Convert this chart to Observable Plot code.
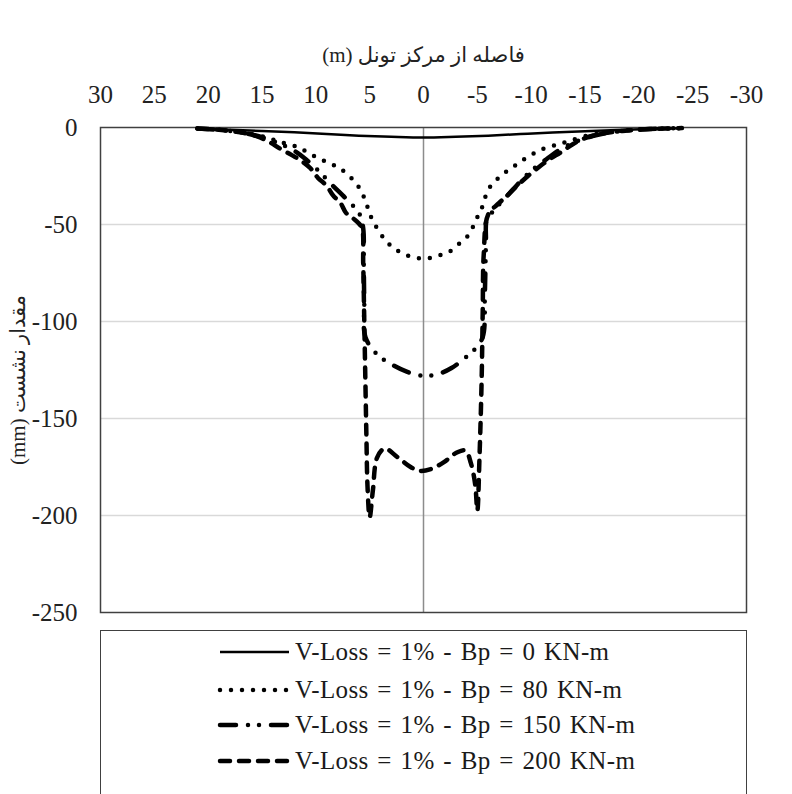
<!DOCTYPE html>
<html>
<head>
<meta charset="utf-8">
<script src="https://cdn.jsdelivr.net/npm/d3@7"></script>
<script src="https://cdn.jsdelivr.net/npm/@observablehq/plot@0.6"></script>
<style>
  body { margin: 0; background: #fff; }
  #wrap { position: relative; width: 792px; height: 794px; overflow: hidden;
          font-family: "Liberation Serif", "Times New Roman", "DejaVu Sans", serif; color: #111; }
  #legend { position: absolute; left: 100px; top: 630px; width: 647px; height: 220px;
            border: 1.5px solid #404040; box-sizing: border-box; background: #fff; }
  .row { position: absolute; left: 116px; height: 36px; display: flex; align-items: center;
         font-size: 25px; letter-spacing: 0.4px; word-spacing: 2px; white-space: nowrap; color: #1a1a1a; }
  .row svg { margin-right: 2px; }
</style>
</head>
<body>
<div id="wrap">
  <div id="chart"></div>
  <div id="legend"></div>
</div>
<script>
// Axis ticks and titles
const xTicks = [30, 25, 20, 15, 10, 5, 0, -5, -10, -15, -20, -25, -30];
const yTicks = [0, -50, -100, -150, -200, -250];
const gridTicks = [-50, -100, -150, -200];
const xTitle = "فاصله از مرکز تونل (m)";
const yTitle = "مقدار نشست (mm)";

// Series names
const seriesNames = [
  "V-Loss = 1% - Bp = 0 KN-m",
  "V-Loss = 1% - Bp = 80 KN-m",
  "V-Loss = 1% - Bp = 150 KN-m",
  "V-Loss = 1% - Bp = 200 KN-m"
];

// Bp = 0 : distance (m), settlement (mm)
const bp0X = [21, 18, 15, 12, 9, 6, 3, 0, -3, -6, -9, -12, -15, -18, -21, -24];
const bp0Y = [-0.8, -1.2, -1.8, -2.5, -3.3, -4.2, -4.8, -5.2, -4.8, -4.2, -3.4, -2.6, -1.9, -1.3, -0.8, -0.4];

// Bp = 80
const bp80X = [21, 19, 17, 15, 13, 11.7, 10.7, 9.7, 8.7, 7.8, 6.9, 6.1, 5.6, 5.2, 4.8, 3.7, 2.8, 1.9, 0.8, -0.3,
               -1.4, -2.4, -3.3, -4.1, -4.7, -5.1, -5.6, -5.9, -6.6, -7.4, -8.4, -9.3, -10.2, -11.1, -12.3,
               -13.5, -15, -17, -19, -21.5, -24];
const bp80Y = [-0.5, -1.2, -2.5, -4.5, -8, -10, -13, -16, -18.5, -21, -25, -30, -35, -41, -47, -57, -62, -65, -67, -67.5,
               -66, -64, -60, -56, -50, -45, -39, -33, -28, -24, -20, -16.5, -13.5, -11, -9,
               -7, -4.5, -2.5, -1.5, -0.7, -0.3];

// Bp = 150
const bp150X = [21, 19, 17, 15, 13.5, 12, 10.8, 9.8, 8.6, 7.5, 6.6, 5.9, 5.6, 5.55, 5.5, 5.4, 4.3, 3, 1.5, 0,
                -1.4, -2.6, -3.8, -4.8, -5.5, -5.7, -5.8, -5.9, -6.5, -7.3, -8.3, -9.3, -10.3, -11.5, -12.8,
                -14.3, -16, -18, -21, -24];
const bp150Y = [-0.5, -1.2, -2.5, -5, -8, -12, -17, -22, -29, -35, -40, -45, -52, -70, -90, -108, -117, -122, -126, -128,
                -127, -124, -119, -114, -108, -85, -60, -47, -43, -38, -32, -26, -21, -16, -11,
                -7, -4, -2, -0.8, -0.3];

// Bp = 200
const bp200X = [21, 19, 17, 15.5, 14.3, 13.3, 12.3, 11.4, 10.5, 9.8, 9, 8.4, 7.7, 7.2, 6.5, 6, 5.7, 5.6, 5.5, 5.4,
                5.3, 5.2, 5.0, 4.7, 4.3, 3.6, 2.4, 1.2, 0.3, -0.7, -1.9, -3.1, -3.9, -4.4, -4.8, -5.0, -5.2,
                -5.4, -5.5, -5.6, -6.0, -7.0, -7.8, -8.7, -9.7, -10.7, -11.8, -12.7, -13.9, -15, -16.7, -19,
                -21.5, -24];
const bp200Y = [-0.5, -1.2, -2.5, -4.5, -7.5, -11, -14, -17, -21, -26, -30, -35, -39, -44, -47, -49.5, -52, -70, -100, -130,
                -160, -185, -201, -187, -170, -165.5, -170, -175, -177, -176, -172.5, -167.5, -166.5, -173, -184, -197.5, -170,
                -130, -95, -65, -45, -39, -35, -30, -25, -20.5, -16, -13, -8.5, -5.5, -3, -1.5,
                -0.7, -0.3];

const seriesX = [bp0X, bp80X, bp150X, bp200X];
const seriesY = [bp0Y, bp80Y, bp150Y, bp200Y];

// Stroke styles per series
const styles = [
  { strokeWidth: 2.5, dash: null },
  { strokeWidth: 4.5, dash: "0 11" },
  { strokeWidth: 4.5, dash: "16 12 0 11 0 12" },
  { strokeWidth: 4.5, dash: "10 9" }
];

const font = '"Liberation Serif", "Times New Roman", "DejaVu Sans", serif';
// right-to-left embedding for the Persian titles
const rtl = s => "\u202B" + s + "\u202C";

const lineMarks = seriesNames.map((name, i) => {
  const rows = seriesX[i].map((x, j) => ({ x, y: seriesY[i][j] }));
  return Plot.line(rows, {
    x: "x", y: "y",
    stroke: "#000",
    strokeWidth: styles[i].strokeWidth,
    strokeDasharray: styles[i].dash,
    strokeLinecap: "round",
    strokeLinejoin: "round",
    curve: "catmull-rom"
  });
});

const chart = Plot.plot({
  width: 792,
  height: 625,
  marginLeft: 100,
  marginRight: 46,
  marginTop: 127,
  marginBottom: 13,
  x: { domain: [30, -30] },
  y: { domain: [-250, 0] },
  style: { fontFamily: font, color: "#222", background: "transparent" },
  marks: [
    Plot.gridY(gridTicks, { stroke: "#d9d9d9", strokeOpacity: 1, strokeWidth: 1.5 }),
    Plot.ruleX([0], { stroke: "#8c8c8c", strokeWidth: 1.5 }),
    Plot.frame({ stroke: "#404040", strokeWidth: 1.5 }),
    Plot.axisX(xTicks, { anchor: "top", tickSize: 0, tickPadding: 25, fontSize: 25,
                         tickFormat: d => String(d), label: null }),
    Plot.axisY(yTicks, { anchor: "left", tickSize: 0, tickPadding: 23, fontSize: 25,
                         tickFormat: d => String(d), label: null }),
    ...lineMarks,
    Plot.text([rtl(xTitle)], { frameAnchor: "top", dy: -80, fontSize: 21, fill: "#222" }),
    Plot.text([rtl(yTitle)], { frameAnchor: "left", textAnchor: "middle", dx: -82, dy: 10,
                               rotate: -90, fontSize: 21, fill: "#222" })
  ]
});
document.getElementById("chart").appendChild(chart);

// Legend: sample stroke + series name per row
const legend = d3.select("#legend");
const rowTops = [3, 41, 76, 112];
seriesNames.forEach((name, i) => {
  const row = legend.append("div").attr("class", "row").style("top", rowTops[i] + "px");
  const svg = row.append("svg").attr("width", 76).attr("height", 20);
  svg.append("line")
    .attr("x1", 3).attr("x2", 72).attr("y1", 10).attr("y2", 10)
    .attr("stroke", "#000")
    .attr("stroke-width", styles[i].strokeWidth)
    .attr("stroke-linecap", styles[i].dash ? "round" : "butt")
    .attr("stroke-dasharray", styles[i].dash);
  row.append("span").text(name);
});
</script>
</body>
</html>
